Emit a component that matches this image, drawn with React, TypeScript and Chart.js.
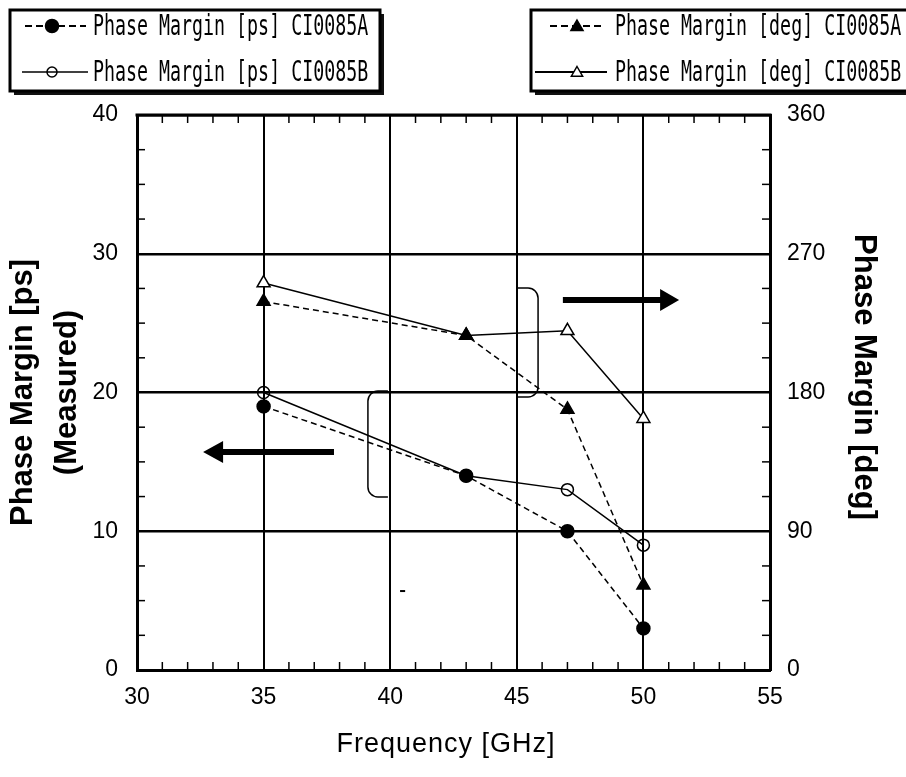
import React, { useEffect, useRef } from "react";
import { Chart, registerables } from "chart.js";

Chart.register(...registerables);

// ---- data ----
const frequencies = [35, 43, 47, 50];
const psA = [19, 14, 10, 3];
const psB = [20, 14, 13, 9];
const degA = [239, 217, 169, 55];
const degB = [251, 217, 220, 163];

const psLegend = ["Phase Margin [ps] CI0085A", "Phase Margin [ps] CI0085B"];
const degLegend = ["Phase Margin [deg] CI0085A", "Phase Margin [deg] CI0085B"];

const xTitle = "Frequency [GHz]";
const yTitle = ["Phase Margin [ps]", "(Measured)"];
const y2Title = "Phase Margin [deg]";

const FONT = "'Liberation Sans', Arial, sans-serif";

function tri(ctx: CanvasRenderingContext2D, cx: number, cy: number, r: number, fill: string) {
  ctx.beginPath();
  ctx.moveTo(cx, cy - r);
  ctx.lineTo(cx + r * 0.866, cy + r * 0.5);
  ctx.lineTo(cx - r * 0.866, cy + r * 0.5);
  ctx.closePath();
  ctx.fillStyle = fill;
  ctx.fill();
  ctx.lineWidth = 1.5;
  ctx.strokeStyle = "#000";
  ctx.stroke();
}

function circ(ctx: CanvasRenderingContext2D, cx: number, cy: number, r: number, fill: string | null) {
  ctx.beginPath();
  ctx.arc(cx, cy, r, 0, Math.PI * 2);
  if (fill) {
    ctx.fillStyle = fill;
    ctx.fill();
  }
  ctx.lineWidth = 1.5;
  ctx.strokeStyle = "#000";
  ctx.stroke();
}

function seg(ctx: CanvasRenderingContext2D, x1: number, y1: number, x2: number, y2: number) {
  ctx.beginPath();
  ctx.moveTo(x1, y1);
  ctx.lineTo(x2, y2);
  ctx.stroke();
}

function monoText(ctx: CanvasRenderingContext2D, s: string, x: number, y: number) {
  ctx.save();
  ctx.translate(x, y);
  ctx.scale(0.653, 1);
  ctx.font = '28px "DejaVu Sans Mono", monospace';
  ctx.textBaseline = "alphabetic";
  ctx.textAlign = "left";
  ctx.fillStyle = "#000";
  ctx.fillText(s, 0, 0);
  ctx.restore();
}

function legendBox(ctx: CanvasRenderingContext2D, x0: number, y0: number, x1: number, y1: number) {
  ctx.fillStyle = "#111";
  ctx.fillRect(x0 + 4, y0 + 4, x1 - x0, y1 - y0);
  ctx.fillStyle = "#fff";
  ctx.fillRect(x0, y0, x1 - x0, y1 - y0);
  ctx.lineWidth = 3;
  ctx.strokeStyle = "#000";
  ctx.strokeRect(x0, y0, x1 - x0, y1 - y0);
}

const decorPlugin = {
  id: "decor",
  afterDraw(chart: any) {
    const ctx: CanvasRenderingContext2D = chart.ctx;
    const xs = chart.scales.x;
    const ys = chart.scales.y;
    const a = chart.chartArea;
    const X = (v: number) => xs.getPixelForValue(v);
    const Y = (v: number) => ys.getPixelForValue(v);
    ctx.save();
    ctx.strokeStyle = "#000";
    ctx.fillStyle = "#000";

    // top border
    ctx.lineWidth = 3;
    seg(ctx, a.left - 1.5, a.top, a.right + 1.5, a.top);

    // minor ticks (inward)
    ctx.lineWidth = 1.5;
    const L = 8;
    for (let v = 31; v < 55; v++) {
      if (v % 5 === 0) continue;
      const px = X(v);
      seg(ctx, px, a.bottom, px, a.bottom - L);
      seg(ctx, px, a.top, px, a.top + L);
    }
    for (let v = 2.5; v < 40; v += 2.5) {
      if (v % 10 === 0) continue;
      const py = Y(v);
      seg(ctx, a.left, py, a.left + L, py);
      seg(ctx, a.right, py, a.right - L, py);
    }

    // arrows
    const arrow = (from: number, headBase: number, tip: number, at: number) => {
      const py = Y(at);
      const p0 = X(from), p1 = X(headBase), p2 = X(tip);
      ctx.beginPath();
      ctx.moveTo(p0, py - 3);
      ctx.lineTo(p1, py - 3);
      ctx.lineTo(p1, py - 11);
      ctx.lineTo(p2, py);
      ctx.lineTo(p1, py + 11);
      ctx.lineTo(p1, py + 3);
      ctx.lineTo(p0, py + 3);
      ctx.closePath();
      ctx.fillStyle = "#000";
      ctx.fill();
    };
    arrow(46.82, 50.66, 51.41, 26.67);
    arrow(37.78, 33.4, 32.61, 15.71);

    // brackets
    ctx.lineWidth = 1.5;
    const bracket = (xOpen: number, xSpine: number, top: number, bottom: number) => {
      const xo = X(xOpen), xsp = X(xSpine), yt = Y(top), yb = Y(bottom);
      const r = 10;
      const dir = xsp > xo ? 1 : -1;
      ctx.beginPath();
      ctx.moveTo(xo, yt);
      ctx.lineTo(xsp - dir * r, yt);
      ctx.arcTo(xsp, yt, xsp, yt + r, r);
      ctx.lineTo(xsp, yb - r);
      ctx.arcTo(xsp, yb, xsp - dir * r, yb, r);
      ctx.lineTo(xo, yb);
      ctx.stroke();
    };
    bracket(45.0, 45.84, 27.53, 19.68);
    bracket(39.91, 39.12, 20.1, 12.47);

    // tiny stray dash
    ctx.lineWidth = 2;
    seg(ctx, X(40.39), Y(5.69), X(40.59), Y(5.69));

    // x axis title
    ctx.save();
    ctx.font = `27px ${FONT}`;
    (ctx as any).letterSpacing = "1px";
    ctx.textAlign = "center";
    ctx.textBaseline = "middle";
    ctx.fillStyle = "#000";
    ctx.fillText(xTitle, 446, 745);
    ctx.restore();

    // right axis title
    ctx.save();
    ctx.translate(864, 377);
    ctx.rotate(Math.PI / 2);
    ctx.font = `bold 31px ${FONT}`;
    ctx.textAlign = "center";
    ctx.textBaseline = "middle";
    ctx.fillStyle = "#000";
    ctx.fillText(y2Title, 0, 0);
    ctx.restore();

    // legends
    legendBox(ctx, 10, 10, 380, 91);
    legendBox(ctx, 531, 10, 915, 91);

    // left legend symbols
    ctx.lineWidth = 1.8;
    ctx.strokeStyle = "#000";
    ctx.setLineDash([7, 4]);
    seg(ctx, 25, 26, 86, 26);
    ctx.setLineDash([]);
    circ(ctx, 52, 26, 6.5, "#000");
    seg(ctx, 22, 72, 88, 72);
    circ(ctx, 52, 72, 5, null);
    monoText(ctx, psLegend[0], 93, 35);
    monoText(ctx, psLegend[1], 93, 81);

    // right legend symbols
    ctx.lineWidth = 1.8;
    ctx.setLineDash([7, 4]);
    seg(ctx, 550, 26, 604, 26);
    ctx.setLineDash([]);
    tri(ctx, 577, 27, 7, "#000");
    ctx.lineWidth = 1.8;
    seg(ctx, 535, 72, 607, 72);
    tri(ctx, 577, 73, 6.5, "#fff");
    monoText(ctx, degLegend[0], 615, 35);
    monoText(ctx, degLegend[1], 615, 81);

    ctx.restore();
  },
};

export default function App() {
  const ref = useRef<HTMLCanvasElement | null>(null);
  useEffect(() => {
    if (!ref.current) return;
    Chart.defaults.color = "#000";
    Chart.defaults.font.family = FONT;
    const tickFont = { size: 23, family: FONT };
    const chart = new Chart(ref.current, {
      type: "line",
      data: {
        datasets: [
          {
            label: psLegend[0],
            data: frequencies.map((f, i) => ({ x: f, y: psA[i] })),
            yAxisID: "y",
            borderColor: "#000",
            borderWidth: 1.5,
            borderDash: [6, 4],
            pointStyle: "circle",
            pointRadius: 6.5,
            pointBackgroundColor: "#000",
            pointBorderColor: "#000",
            fill: false,
          },
          {
            label: psLegend[1],
            data: frequencies.map((f, i) => ({ x: f, y: psB[i] })),
            yAxisID: "y",
            borderColor: "#000",
            borderWidth: 1.5,
            pointStyle: "circle",
            pointRadius: 6,
            pointBorderWidth: 1.5,
            pointBackgroundColor: "rgba(0,0,0,0)",
            pointBorderColor: "#000",
            fill: false,
          },
          {
            label: degLegend[0],
            data: frequencies.map((f, i) => ({ x: f, y: degA[i] })),
            yAxisID: "y2",
            borderColor: "#000",
            borderWidth: 1.5,
            borderDash: [6, 4],
            pointStyle: "triangle",
            pointRadius: 7.5,
            pointBackgroundColor: "#000",
            pointBorderColor: "#000",
            fill: false,
          },
          {
            label: degLegend[1],
            data: frequencies.map((f, i) => ({ x: f, y: degB[i] })),
            yAxisID: "y2",
            borderColor: "#000",
            borderWidth: 1.5,
            pointStyle: "triangle",
            pointRadius: 7.5,
            pointBorderWidth: 1.5,
            pointBackgroundColor: "#fff",
            pointBorderColor: "#000",
            fill: false,
          },
        ],
      },
      options: {
        animation: false,
        responsive: false,
        maintainAspectRatio: false,
        layout: { padding: { top: 115, left: 0, right: 0, bottom: 0 } },
        plugins: { legend: { display: false }, tooltip: { enabled: false }, title: { display: false } },
        scales: {
          x: {
            type: "linear",
            position: "bottom",
            min: 30,
            max: 55,
            ticks: { stepSize: 5, padding: 14, font: tickFont, color: "#000" },
            grid: { color: "#000", lineWidth: 2, drawTicks: false },
            border: { display: true, width: 3, color: "#000" },
            title: { display: false, text: xTitle },
            afterFit: (s: any) => {
              s.height = 107;
            },
          },
          y: {
            type: "linear",
            position: "left",
            min: 0,
            max: 40,
            ticks: { stepSize: 10, padding: 19, font: tickFont, color: "#000" },
            grid: { color: "#000", lineWidth: 2.5, drawTicks: false },
            border: { display: true, width: 3, color: "#000" },
            title: {
              display: true,
              text: yTitle,
              font: { size: 31, weight: "bold", family: FONT, lineHeight: 1.4 },
              padding: { top: 2, bottom: 0 },
              color: "#000",
            },
            afterFit: (s: any) => {
              s.width = 137;
            },
          },
          y2: {
            type: "linear",
            position: "right",
            min: 0,
            max: 360,
            ticks: { stepSize: 90, padding: 17, font: tickFont, color: "#000" },
            grid: { display: false, drawTicks: false },
            border: { display: true, width: 3, color: "#000" },
            title: { display: false, text: y2Title },
            afterFit: (s: any) => {
              s.width = 136;
            },
          },
        },
      } as any,
      plugins: [decorPlugin],
    });
    return () => chart.destroy();
  }, []);
  return (
    <div style={{ position: "fixed", left: 0, top: 0, width: 906, height: 777, background: "#fff" }}>
      <canvas ref={ref} width={906} height={777} style={{ display: "block" }} />
    </div>
  );
}
